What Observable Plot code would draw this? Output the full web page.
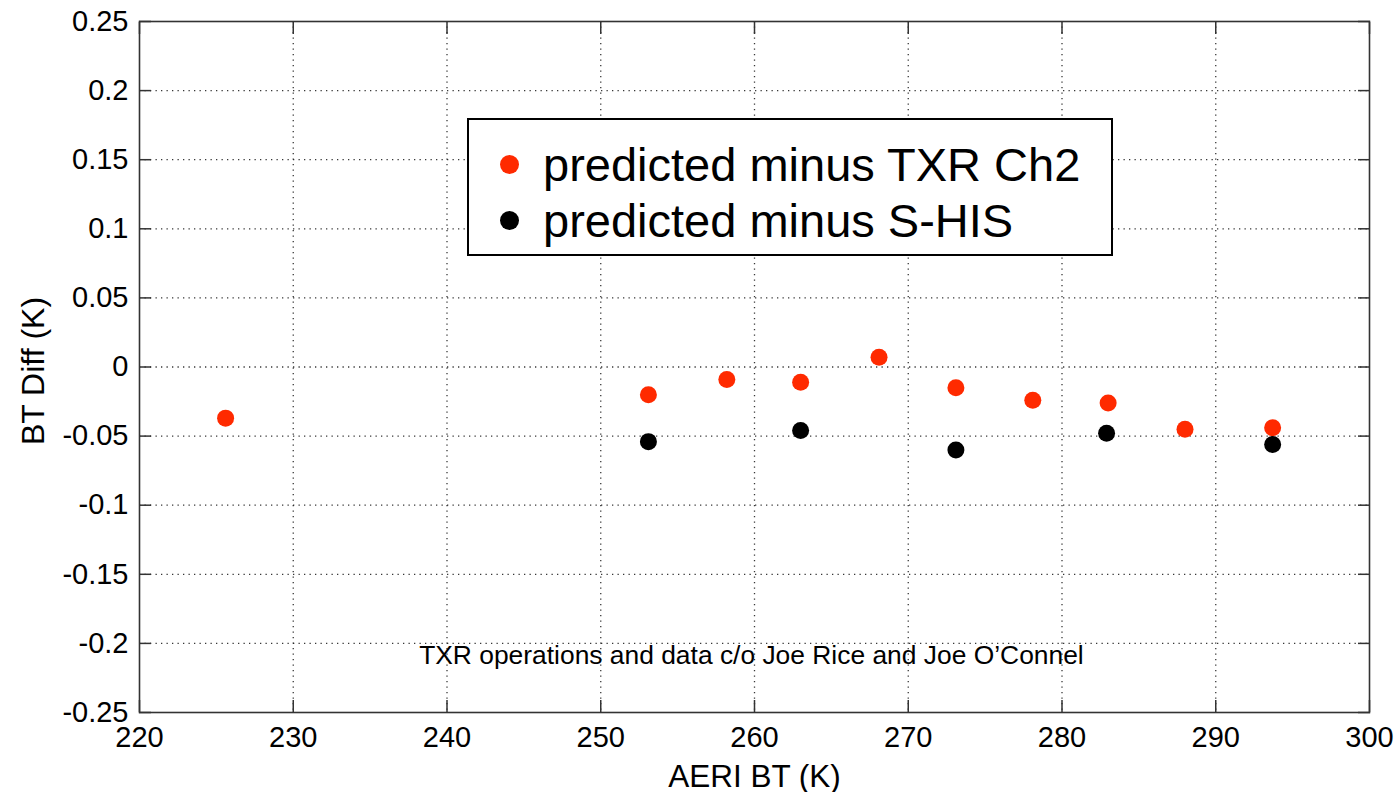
<!DOCTYPE html>
<html>
<head>
<meta charset="utf-8">
<script src="https://cdn.jsdelivr.net/npm/d3@7"></script>
<script src="https://cdn.jsdelivr.net/npm/@observablehq/plot@0.6"></script>
<style>
  html, body { margin: 0; padding: 0; background: #fff; }
  #wrap { position: relative; width: 1397px; height: 792px; font-family: "Liberation Sans", Arial, Helvetica, sans-serif; }
  #legend { position: absolute; left: 467px; top: 118px; width: 642px; height: 134px; border: 2px solid #000; background: #fff; box-sizing: content-box; }
  .row { position: absolute; left: 0; height: 56px; display: flex; align-items: center; font-size: 47px; color: #000; white-space: nowrap; }
  .dot { display: inline-block; width: 19px; height: 19px; border-radius: 50%; margin-left: 31px; margin-right: 24px; }
</style>
</head>
<body>
<div id="wrap">
  <div id="chart"></div>
  <div id="legend"></div>
</div>
<script>
// Data
const txrBT   = [225.6, 253.1, 258.2, 263.0, 268.1, 273.1, 278.1, 283.0, 288.0, 293.7];
const txrDiff = [-0.037, -0.020, -0.009, -0.011, 0.007, -0.015, -0.024, -0.026, -0.045, -0.044];
const shisBT   = [253.1, 263.0, 273.1, 282.9, 293.7];
const shisDiff = [-0.054, -0.046, -0.060, -0.048, -0.056];

const xTicks = [220, 230, 240, 250, 260, 270, 280, 290, 300];
const yTicks = [-0.25, -0.2, -0.15, -0.1, -0.05, 0, 0.05, 0.1, 0.15, 0.2, 0.25];

const seriesNames = ["predicted minus TXR Ch2", "predicted minus S-HIS"];
const seriesColors = ["#ff2a00", "#000000"];

const xLabel = "AERI BT (K)";
const yLabel = "BT Diff (K)";
const note = ["TXR operations and data c/o Joe Rice and Joe O\u2019Connel"];
const noteX = 259.8, noteY = -0.209;

const txr = txrBT.map((x, i) => ({x, y: txrDiff[i]}));
const shis = shisBT.map((x, i) => ({x, y: shisDiff[i]}));

const fmt = d => String(+d.toFixed(2));
const gridStyle = {stroke: "#222", strokeOpacity: 0.9, strokeWidth: 1.3, strokeDasharray: "1.3,4.2"};
const tickStyle = {stroke: "#333", strokeWidth: 1.5, tickFormat: () => "", label: null};

const chart = Plot.plot({
  width: 1397,
  height: 792,
  marginLeft: 139,
  marginRight: 28,
  marginTop: 21,
  marginBottom: 80,
  style: {fontFamily: "'Liberation Sans', Arial, Helvetica, sans-serif", fontSize: "29px", color: "#000", background: "#fff"},
  x: {domain: [220, 300]},
  y: {domain: [-0.25, 0.25]},
  marks: [
    Plot.gridX(xTicks.slice(1, -1), gridStyle),
    Plot.gridY(yTicks.slice(1, -1), gridStyle),
    // tick labels
    Plot.axisY(yTicks, {anchor: "left", tickSize: 0, tickPadding: 11, tickFormat: fmt, label: null, fontSize: 29}),
    Plot.axisX(xTicks, {anchor: "bottom", tickSize: 0, tickPadding: 14, tickFormat: fmt, label: null, fontSize: 29}),
    // inward ticks on all four sides
    Plot.axisY(yTicks, {anchor: "left", tickSize: 12, dx: 12, ...tickStyle}),
    Plot.axisY(yTicks, {anchor: "right", tickSize: 12, dx: -12, ...tickStyle}),
    Plot.axisX(xTicks, {anchor: "bottom", tickSize: 12, dy: -12, ...tickStyle}),
    Plot.axisX(xTicks, {anchor: "top", tickSize: 12, dy: 12, ...tickStyle}),
    Plot.frame({stroke: "#333", strokeWidth: 1.6}),
    // data
    Plot.dot(txr, {x: "x", y: "y", r: 8.5, fill: seriesColors[0], stroke: null}),
    Plot.dot(shis, {x: "x", y: "y", r: 8.5, fill: seriesColors[1], stroke: null}),
    // annotation
    Plot.text(note, {x: () => noteX, y: () => noteY, text: d => d, fontSize: 26.4, fill: "#000", lineAnchor: "middle"}),
    // axis titles
    Plot.text([xLabel], {frameAnchor: "bottom", dy: 74, text: d => d, fontSize: 31.5, lineAnchor: "bottom", textAnchor: "middle", fill: "#000"}),
    Plot.text([yLabel], {frameAnchor: "left", dx: -96, dy: 4, rotate: -90, text: d => d, fontSize: 32, lineAnchor: "bottom", textAnchor: "middle", fill: "#000"})
  ]
});
document.getElementById("chart").appendChild(chart);

const legend = document.getElementById("legend");
seriesNames.forEach((name, i) => {
  const row = document.createElement("div");
  row.className = "row";
  row.style.top = (i === 0 ? 16 : 72) + "px";
  const dot = document.createElement("span");
  dot.className = "dot";
  dot.style.background = seriesColors[i];
  row.appendChild(dot);
  const t = document.createElement("span");
  t.textContent = name;
  row.appendChild(t);
  legend.appendChild(row);
});
</script>
</body>
</html>
